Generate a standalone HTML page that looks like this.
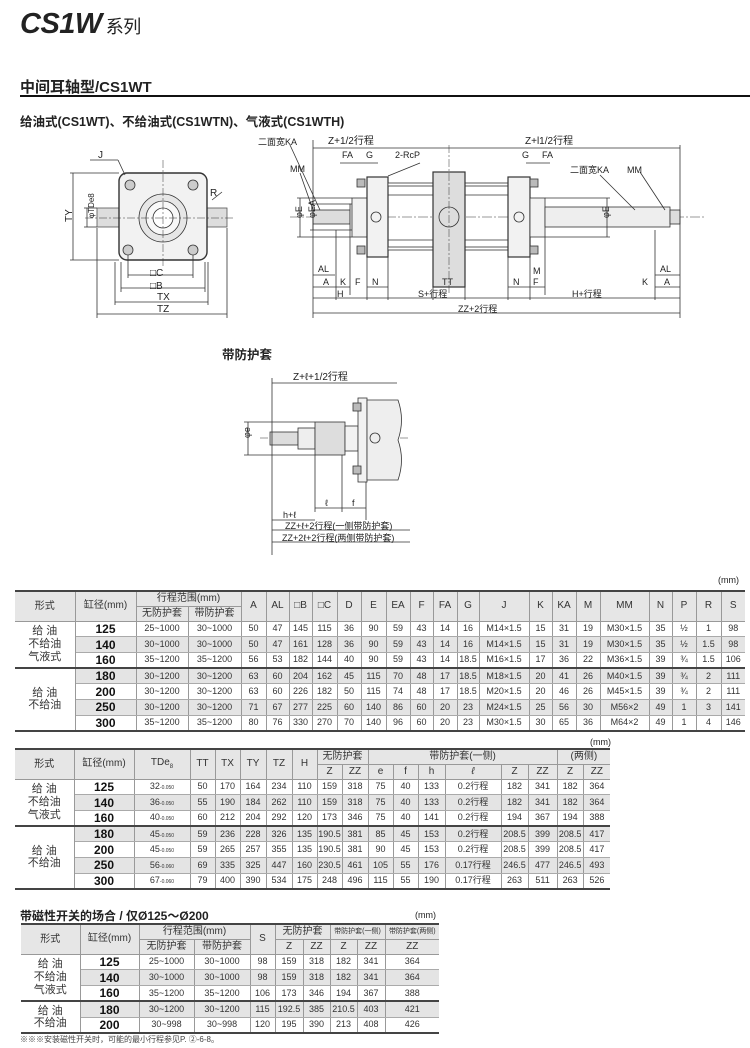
<!DOCTYPE html>
<html><head><meta charset="utf-8">
<style>
*{margin:0;padding:0;box-sizing:border-box}
body{width:750px;height:1048px;background:#fff;position:relative;overflow:hidden;font-family:"Liberation Sans","Noto Sans CJK SC",sans-serif;color:#222}
.a{position:absolute;white-space:nowrap}
table{position:absolute;border-collapse:collapse;table-layout:fixed;font-size:9px;color:#333}
td{border-left:1px solid #999;border-right:1px solid #999;border-bottom:1px solid #aaa;text-align:center;vertical-align:middle;padding:0;overflow:hidden;white-space:nowrap;line-height:1}
tr.h td{background:#e6e6e6;font-size:10px;border-bottom:1px solid #999}
td.f{border-left:none;font-size:11px;line-height:1.15;background:#fff}
td.b{font-weight:bold;font-size:12px;color:#111}
tr.s td{background:#e4e4e4}
tr.s td.f{background:#fff}
tr.k td{border-top:2px solid #444}
table{border-top:2px solid #444;border-bottom:2px solid #444}
td:last-child{border-right:none}
</style></head><body>
<div class="a" style="left:20px;top:8px;font-size:29px;font-weight:bold;font-style:italic;letter-spacing:-0.5px">CS1W<span style="font-size:18px;font-style:normal;font-weight:normal;margin-left:4px">系列</span></div>
<div class="a" style="left:20px;top:76px;font-size:15px;font-weight:bold">中间耳轴型/CS1WT</div>
<div class="a" style="left:20px;top:95px;width:730px;height:2px;background:#111"></div>
<div class="a" style="left:20px;top:111px;font-size:12.5px;font-weight:bold">给油式(CS1WT)、不给油式(CS1WTN)、气液式(CS1WTH)</div>
<div class="a" style="left:222px;top:344px;font-size:12.5px;font-weight:bold">带防护套</div>

<svg class="a" style="left:0;top:0" width="750" height="580" viewBox="0 0 750 580" font-family="Liberation Sans,Noto Sans CJK SC,sans-serif" font-size="9" fill="none" stroke="#333" stroke-width="0.8">
<!-- left end view -->
<g>
<rect x="97" y="208" width="130" height="19" fill="#ddd" stroke="#555"/>
<rect x="119" y="173" width="88" height="87" rx="8" fill="#f2f2f2" stroke="#333" stroke-width="1.4"/>
<circle cx="163" cy="218" r="24" fill="#e6e6e6"/>
<circle cx="163" cy="218" r="17" fill="#f8f8f8"/>
<circle cx="163" cy="218" r="10" fill="#fff"/>
<circle cx="130" cy="185" r="5" fill="#ccc"/><circle cx="193" cy="185" r="5" fill="#ccc"/>
<circle cx="128" cy="250" r="5" fill="#ccc"/><circle cx="193" cy="250" r="5" fill="#ccc"/>
<line x1="85" y1="218" x2="235" y2="218" stroke-dasharray="8 2 2 2" stroke-width="0.5"/>
<line x1="163" y1="160" x2="163" y2="268" stroke-dasharray="8 2 2 2" stroke-width="0.5"/>
<line x1="128" y1="255" x2="128" y2="278"/><line x1="193" y1="255" x2="193" y2="278"/>
<line x1="128" y1="275" x2="193" y2="275"/><line x1="121" y1="288" x2="205" y2="288"/><line x1="115" y1="302" x2="208" y2="302"/><line x1="97" y1="314" x2="227" y2="314"/>
<line x1="121" y1="262" x2="121" y2="292"/><line x1="205" y1="262" x2="205" y2="292"/>
<line x1="115" y1="262" x2="115" y2="305"/><line x1="208" y1="262" x2="208" y2="305"/>
<line x1="97" y1="228" x2="97" y2="318"/><line x1="227" y1="228" x2="227" y2="318"/>
<line x1="70" y1="173" x2="119" y2="173"/><line x1="70" y1="260" x2="119" y2="260"/><line x1="73" y1="173" x2="73" y2="260"/>
<line x1="84" y1="208" x2="97" y2="208"/><line x1="84" y1="227" x2="97" y2="227"/><line x1="87" y1="208" x2="87" y2="227"/>
<line x1="90" y1="160" x2="118" y2="160"/><line x1="118" y1="160" x2="125" y2="175"/>
<line x1="212" y1="200" x2="222" y2="192"/>
<g fill="#222" stroke="none" font-size="10">
<text x="98" y="158">J</text><text x="210" y="196">R</text>
<text x="150" y="276">□C</text><text x="150" y="289">□B</text><text x="157" y="300">TX</text><text x="157" y="312">TZ</text>
<text x="68" y="226" transform="rotate(-90 68 222)">TY</text><text x="84" y="228" transform="rotate(-90 84 218)" font-size="8">φTDe8</text>
</g>
</g>
<!-- main side view -->
<g>
<line x1="290" y1="217" x2="705" y2="217" stroke-dasharray="10 2 2 2" stroke-width="0.5"/>
<rect x="313" y="210" width="37" height="14" fill="#ddd"/>
<rect x="350" y="204" width="17" height="26" fill="#eee"/>
<rect x="352" y="198" width="15" height="39" fill="#f2f2f2"/>
<rect x="367" y="177" width="21" height="80" fill="#f2f2f2" stroke-width="1.2"/>
<rect x="388" y="183" width="45" height="3" fill="#fff"/><rect x="388" y="247" width="45" height="3" fill="#fff"/>
<rect x="465" y="183" width="43" height="3" fill="#fff"/><rect x="465" y="247" width="43" height="3" fill="#fff"/>
<line x1="388" y1="195" x2="508" y2="195"/><line x1="388" y1="240" x2="508" y2="240"/>
<rect x="433" y="172" width="32" height="115" fill="#ddd" stroke-width="1.2"/>
<circle cx="449" cy="217" r="10" fill="#ddd"/>
<line x1="449" y1="145" x2="449" y2="295" stroke-dasharray="8 2 2 2" stroke-width="0.5"/>
<rect x="508" y="177" width="22" height="80" fill="#f2f2f2" stroke-width="1.2"/>
<rect x="530" y="198" width="15" height="39" fill="#f2f2f2"/>
<rect x="545" y="207" width="125" height="20" fill="#eee"/>
<rect x="670" y="210" width="10" height="14" fill="#ddd"/>
<circle cx="376" cy="217" r="5"/><circle cx="519" cy="217" r="5"/>
<rect x="357" y="179" width="8" height="8" fill="#bbb"/><rect x="357" y="246" width="8" height="8" fill="#bbb"/>
<rect x="530" y="179" width="8" height="8" fill="#bbb"/><rect x="530" y="246" width="8" height="8" fill="#bbb"/>
<!-- dims -->
<line x1="313" y1="148" x2="680" y2="148"/><line x1="313" y1="140" x2="313" y2="318"/><line x1="680" y1="145" x2="680" y2="318"/>
<line x1="313" y1="313" x2="680" y2="313"/><line x1="313" y1="298" x2="530" y2="298"/><line x1="530" y1="298" x2="680" y2="298"/>
<line x1="313" y1="287" x2="350" y2="287"/><line x1="367" y1="287" x2="388" y2="287"/><line x1="433" y1="287" x2="465" y2="287"/>
<line x1="508" y1="287" x2="545" y2="287"/><line x1="655" y1="287" x2="680" y2="287"/>
<line x1="313" y1="275" x2="335" y2="275"/><line x1="655" y1="275" x2="680" y2="275"/>
<line x1="336" y1="230" x2="336" y2="300"/><line x1="350" y1="230" x2="350" y2="295"/><line x1="367" y1="257" x2="367" y2="300"/><line x1="388" y1="257" x2="388" y2="300"/>
<line x1="433" y1="287" x2="433" y2="300"/><line x1="465" y1="287" x2="465" y2="300"/>
<line x1="508" y1="257" x2="508" y2="300"/><line x1="530" y1="257" x2="530" y2="300"/><line x1="545" y1="237" x2="545" y2="295"/>
<line x1="655" y1="230" x2="655" y2="300"/>
<line x1="297" y1="198" x2="352" y2="198"/><line x1="297" y1="237" x2="352" y2="237"/><line x1="300" y1="198" x2="300" y2="237"/>
<line x1="310" y1="204" x2="350" y2="204"/><line x1="310" y1="230" x2="350" y2="230"/><line x1="313" y1="204" x2="313" y2="230"/>
<line x1="610" y1="198" x2="545" y2="198"/><line x1="607" y1="198" x2="607" y2="237"/><line x1="610" y1="237" x2="545" y2="237"/>
<line x1="340" y1="163" x2="378" y2="163"/><line x1="420" y1="163" x2="388" y2="176"/>
<line x1="526" y1="163" x2="550" y2="163"/>
<line x1="290" y1="145" x2="320" y2="210"/><line x1="300" y1="173" x2="313" y2="210"/>
<line x1="600" y1="175" x2="635" y2="210"/><line x1="640" y1="172" x2="665" y2="210"/>
<g fill="#222" stroke="none" font-size="9">
<text x="258" y="145">二面宽KA</text><text x="328" y="144" font-size="10">Z+1/2行程</text><text x="525" y="144" font-size="10">Z+l1/2行程</text>
<text x="342" y="158">FA</text><text x="366" y="158">G</text><text x="395" y="158">2-RcP</text>
<text x="522" y="158">G</text><text x="542" y="158">FA</text>
<text x="290" y="172">MM</text><text x="570" y="173">二面宽KA</text><text x="627" y="173">MM</text>
<text x="318" y="272">AL</text><text x="323" y="285">A</text><text x="340" y="285">K</text><text x="355" y="285">F</text><text x="372" y="285">N</text>
<text x="442" y="285">TT</text><text x="513" y="285">N</text><text x="533" y="285">F</text><text x="533" y="274">M</text>
<text x="660" y="272">AL</text><text x="642" y="285">K</text><text x="664" y="285">A</text>
<text x="337" y="297">H</text><text x="418" y="297">S+行程</text><text x="572" y="297">H+行程</text>
<text x="458" y="312">ZZ+2行程</text>
<text x="298" y="222" transform="rotate(-90 298 218)">φE</text><text x="311" y="222" transform="rotate(-90 311 218)">φEA</text>
<text x="605" y="222" transform="rotate(-90 605 218)">φE</text>
</g>
</g>
<!-- boot view -->
<g>
<line x1="260" y1="438" x2="410" y2="438" stroke-dasharray="8 2 2 2" stroke-width="0.5"/>
<rect x="270" y="432" width="28" height="13" fill="#ddd"/>
<rect x="298" y="428" width="17" height="21" fill="#eee"/>
<rect x="315" y="422" width="30" height="33" fill="#ddd"/>
<rect x="345" y="426" width="13" height="25" fill="#f2f2f2"/>
<rect x="358" y="398" width="9" height="84" fill="#f2f2f2"/>
<path d="M367 400 H398 Q405 420 398 440 Q405 460 398 480 H367 Z" fill="#eee"/>
<circle cx="375" cy="438" r="5"/>
<rect x="353" y="403" width="8" height="8" fill="#bbb"/><rect x="353" y="466" width="8" height="8" fill="#bbb"/>
<line x1="272" y1="383" x2="397" y2="383"/><line x1="272" y1="378" x2="272" y2="555"/>
<line x1="315" y1="455" x2="315" y2="512"/><line x1="342" y1="455" x2="342" y2="512"/><line x1="366" y1="482" x2="366" y2="520"/>
<line x1="315" y1="508" x2="366" y2="508"/><line x1="272" y1="520" x2="315" y2="520"/>
<line x1="272" y1="530" x2="410" y2="530"/><line x1="272" y1="542" x2="410" y2="542"/>
<line x1="244" y1="422" x2="315" y2="422"/><line x1="244" y1="455" x2="315" y2="455"/><line x1="248" y1="422" x2="248" y2="455"/>
<g fill="#222" stroke="none" font-size="9">
<text x="293" y="380" font-size="10">Z+ℓ+1/2行程</text>
<text x="325" y="506">ℓ</text><text x="352" y="506">f</text><text x="283" y="518">h+ℓ</text>
<text x="285" y="529">ZZ+ℓ+2行程(一侧带防护套)</text><text x="282" y="541">ZZ+2ℓ+2行程(两侧带防护套)</text>
<text x="246" y="442" transform="rotate(-90 246 438)">φe</text>
</g>
</g>
</svg>

<div class="a" style="left:718px;top:575px;font-size:9px">(mm)</div>
<table style="left:15px;top:590px;width:730px">
<colgroup><col style="width:60px"><col style="width:61px"><col style="width:52px"><col style="width:53px"><col style="width:25px"><col style="width:23px"><col style="width:23px"><col style="width:25px"><col style="width:24px"><col style="width:25px"><col style="width:24px"><col style="width:23px"><col style="width:24px"><col style="width:22px"><col style="width:50px"><col style="width:23px"><col style="width:24px"><col style="width:24px"><col style="width:49px"><col style="width:23px"><col style="width:24px"><col style="width:25px"><col style="width:24px"></colgroup>
<tr class="h" style="height:15px"><td rowspan="2" class="f" style="background:#e6e6e6">形式</td><td rowspan="2">缸径(mm)</td><td colspan="2">行程范围(mm)</td><td rowspan="2">A</td><td rowspan="2">AL</td><td rowspan="2">□B</td><td rowspan="2">□C</td><td rowspan="2">D</td><td rowspan="2">E</td><td rowspan="2">EA</td><td rowspan="2">F</td><td rowspan="2">FA</td><td rowspan="2">G</td><td rowspan="2">J</td><td rowspan="2">K</td><td rowspan="2">KA</td><td rowspan="2">M</td><td rowspan="2">MM</td><td rowspan="2">N</td><td rowspan="2">P</td><td rowspan="2">R</td><td rowspan="2">S</td></tr>
<tr class="h" style="height:15px"><td>无防护套</td><td>带防护套</td></tr>
<tr style="height:15.7px"><td rowspan="3" class="f">给 油<br>不给油<br>气液式</td><td class="b">125</td><td>25~1000</td><td>30~1000</td><td>50</td><td>47</td><td>145</td><td>115</td><td>36</td><td>90</td><td>59</td><td>43</td><td>14</td><td>16</td><td>M14×1.5</td><td>15</td><td>31</td><td>19</td><td>M30×1.5</td><td>35</td><td>½</td><td>1</td><td>98</td></tr>
<tr class="s" style="height:15.7px"><td class="b">140</td><td>30~1000</td><td>30~1000</td><td>50</td><td>47</td><td>161</td><td>128</td><td>36</td><td>90</td><td>59</td><td>43</td><td>14</td><td>16</td><td>M14×1.5</td><td>15</td><td>31</td><td>19</td><td>M30×1.5</td><td>35</td><td>½</td><td>1.5</td><td>98</td></tr>
<tr style="height:15.7px"><td class="b">160</td><td>35~1200</td><td>35~1200</td><td>56</td><td>53</td><td>182</td><td>144</td><td>40</td><td>90</td><td>59</td><td>43</td><td>14</td><td>18.5</td><td>M16×1.5</td><td>17</td><td>36</td><td>22</td><td>M36×1.5</td><td>39</td><td>¾</td><td>1.5</td><td>106</td></tr>
<tr class="s k" style="height:15.7px"><td rowspan="4" class="f">给 油<br>不给油</td><td class="b">180</td><td>30~1200</td><td>30~1200</td><td>63</td><td>60</td><td>204</td><td>162</td><td>45</td><td>115</td><td>70</td><td>48</td><td>17</td><td>18.5</td><td>M18×1.5</td><td>20</td><td>41</td><td>26</td><td>M40×1.5</td><td>39</td><td>¾</td><td>2</td><td>111</td></tr>
<tr style="height:15.7px"><td class="b">200</td><td>30~1200</td><td>30~1200</td><td>63</td><td>60</td><td>226</td><td>182</td><td>50</td><td>115</td><td>74</td><td>48</td><td>17</td><td>18.5</td><td>M20×1.5</td><td>20</td><td>46</td><td>26</td><td>M45×1.5</td><td>39</td><td>¾</td><td>2</td><td>111</td></tr>
<tr class="s" style="height:15.7px"><td class="b">250</td><td>30~1200</td><td>30~1200</td><td>71</td><td>67</td><td>277</td><td>225</td><td>60</td><td>140</td><td>86</td><td>60</td><td>20</td><td>23</td><td>M24×1.5</td><td>25</td><td>56</td><td>30</td><td>M56×2</td><td>49</td><td>1</td><td>3</td><td>141</td></tr>
<tr style="height:15.7px"><td class="b">300</td><td>35~1200</td><td>35~1200</td><td>80</td><td>76</td><td>330</td><td>270</td><td>70</td><td>140</td><td>96</td><td>60</td><td>20</td><td>23</td><td>M30×1.5</td><td>30</td><td>65</td><td>36</td><td>M64×2</td><td>49</td><td>1</td><td>4</td><td>146</td></tr>
</table>

<div class="a" style="left:590px;top:737px;font-size:9px">(mm)</div>
<table style="left:15px;top:748px;width:595px">
<colgroup><col style="width:59px"><col style="width:60px"><col style="width:56px"><col style="width:25px"><col style="width:25px"><col style="width:26px"><col style="width:26px"><col style="width:25px"><col style="width:25px"><col style="width:26px"><col style="width:25px"><col style="width:25px"><col style="width:27px"><col style="width:56px"><col style="width:27px"><col style="width:29px"><col style="width:26px"><col style="width:27px"></colgroup>
<tr class="h" style="height:15px"><td rowspan="2" class="f" style="background:#e6e6e6">形式</td><td rowspan="2">缸径(mm)</td><td rowspan="2">TDe<sub style="font-size:6px">8</sub></td><td rowspan="2">TT</td><td rowspan="2">TX</td><td rowspan="2">TY</td><td rowspan="2">TZ</td><td rowspan="2">H</td><td colspan="2">无防护套</td><td colspan="6">带防护套(一侧)</td><td colspan="2">(两侧)</td></tr>
<tr class="h" style="height:15px"><td>Z</td><td>ZZ</td><td>e</td><td>f</td><td>h</td><td><i>ℓ</i></td><td>Z</td><td>ZZ</td><td>Z</td><td>ZZ</td></tr>
<tr style="height:15.7px"><td rowspan="3" class="f">给 油<br>不给油<br>气液式</td><td class="b">125</td><td>32<span style="font-size:5px">-0.050<br></span></td><td>50</td><td>170</td><td>164</td><td>234</td><td>110</td><td>159</td><td>318</td><td>75</td><td>40</td><td>133</td><td>0.2行程</td><td>182</td><td>341</td><td>182</td><td>364</td></tr>
<tr class="s" style="height:15.7px"><td class="b">140</td><td>36<span style="font-size:5px">-0.050</span></td><td>55</td><td>190</td><td>184</td><td>262</td><td>110</td><td>159</td><td>318</td><td>75</td><td>40</td><td>133</td><td>0.2行程</td><td>182</td><td>341</td><td>182</td><td>364</td></tr>
<tr style="height:15.7px"><td class="b">160</td><td>40<span style="font-size:5px">-0.050</span></td><td>60</td><td>212</td><td>204</td><td>292</td><td>120</td><td>173</td><td>346</td><td>75</td><td>40</td><td>141</td><td>0.2行程</td><td>194</td><td>367</td><td>194</td><td>388</td></tr>
<tr class="s k" style="height:15.7px"><td rowspan="4" class="f">给 油<br>不给油</td><td class="b">180</td><td>45<span style="font-size:5px">-0.050</span></td><td>59</td><td>236</td><td>228</td><td>326</td><td>135</td><td>190.5</td><td>381</td><td>85</td><td>45</td><td>153</td><td>0.2行程</td><td>208.5</td><td>399</td><td>208.5</td><td>417</td></tr>
<tr style="height:15.7px"><td class="b">200</td><td>45<span style="font-size:5px">-0.050</span></td><td>59</td><td>265</td><td>257</td><td>355</td><td>135</td><td>190.5</td><td>381</td><td>90</td><td>45</td><td>153</td><td>0.2行程</td><td>208.5</td><td>399</td><td>208.5</td><td>417</td></tr>
<tr class="s" style="height:15.7px"><td class="b">250</td><td>56<span style="font-size:5px">-0.060</span></td><td>69</td><td>335</td><td>325</td><td>447</td><td>160</td><td>230.5</td><td>461</td><td>105</td><td>55</td><td>176</td><td>0.17行程</td><td>246.5</td><td>477</td><td>246.5</td><td>493</td></tr>
<tr style="height:15.7px"><td class="b">300</td><td>67<span style="font-size:5px">-0.060</span></td><td>79</td><td>400</td><td>390</td><td>534</td><td>175</td><td>248</td><td>496</td><td>115</td><td>55</td><td>190</td><td>0.17行程</td><td>263</td><td>511</td><td>263</td><td>526</td></tr>
</table>

<div class="a" style="left:20px;top:907px;font-size:12px;font-weight:bold">带磁性开关的场合 / 仅Ø125～Ø200</div>
<div class="a" style="left:415px;top:910px;font-size:9px">(mm)</div>
<table style="left:21px;top:923px;width:418px">
<colgroup><col style="width:59px"><col style="width:59px"><col style="width:55px"><col style="width:56px"><col style="width:25px"><col style="width:28px"><col style="width:27px"><col style="width:27px"><col style="width:28px"><col style="width:54px"></colgroup>
<tr class="h" style="height:15px"><td rowspan="2" class="f" style="background:#e6e6e6">形式</td><td rowspan="2">缸径(mm)</td><td colspan="2">行程范围(mm)</td><td rowspan="2">S</td><td colspan="2">无防护套</td><td colspan="2" style="font-size:7px">带防护套(一侧)</td><td style="font-size:7px">带防护套(两侧)</td></tr>
<tr class="h" style="height:15px"><td>无防护套</td><td>带防护套</td><td>Z</td><td>ZZ</td><td>Z</td><td>ZZ</td><td>ZZ</td></tr>
<tr style="height:15.8px"><td rowspan="3" class="f">给 油<br>不给油<br>气液式</td><td class="b">125</td><td>25~1000</td><td>30~1000</td><td>98</td><td>159</td><td>318</td><td>182</td><td>341</td><td>364</td></tr>
<tr class="s" style="height:15.8px"><td class="b">140</td><td>30~1000</td><td>30~1000</td><td>98</td><td>159</td><td>318</td><td>182</td><td>341</td><td>364</td></tr>
<tr style="height:15.8px"><td class="b">160</td><td>35~1200</td><td>35~1200</td><td>106</td><td>173</td><td>346</td><td>194</td><td>367</td><td>388</td></tr>
<tr class="s k" style="height:15.8px"><td rowspan="2" class="f">给 油<br>不给油</td><td class="b">180</td><td>30~1200</td><td>30~1200</td><td>115</td><td>192.5</td><td>385</td><td>210.5</td><td>403</td><td>421</td></tr>
<tr style="height:15.8px"><td class="b">200</td><td>30~998</td><td>30~998</td><td>120</td><td>195</td><td>390</td><td>213</td><td>408</td><td>426</td></tr>
</table>
<div class="a" style="left:20px;top:1034px;font-size:8px;color:#444">※※※安装磁性开关时，可能的最小行程参见P. ②-6-8。</div>
</body></html>
